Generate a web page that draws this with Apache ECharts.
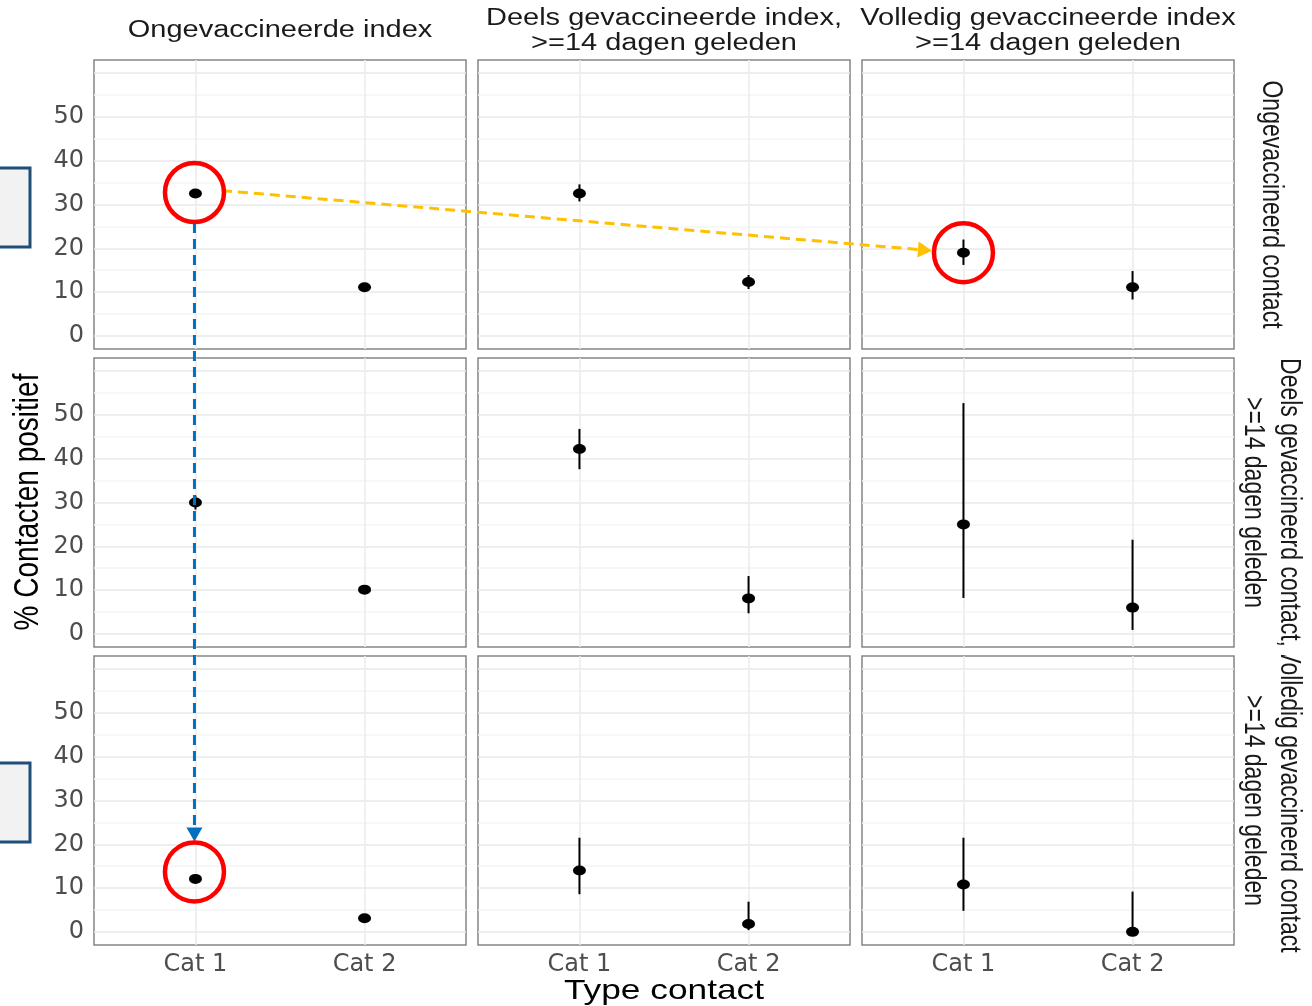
<!DOCTYPE html>
<html>
<head>
<meta charset="utf-8">
<script src="https://cdn.jsdelivr.net/npm/echarts@6/dist/echarts.min.js"></script>
<style>
html, body { margin: 0; padding: 0; background: #ffffff; }
#chart { width: 1312px; height: 1006px; }
</style>
</head>
<body>
<div id="chart"></div>
<script>
// ---------------- data ----------------
const categories = ['Cat 1', 'Cat 2'];
const indexLabels = [
  'Ongevaccineerde index',
  'Deels gevaccineerde index,\n>=14 dagen geleden',
  'Volledig gevaccineerde index\n>=14 dagen geleden'
];
const contactLabels = [
  'Ongevaccineerd contact',
  'Deels gevaccineerd contact,\n>=14 dagen geleden',
  'Volledig gevaccineerd contact\n>=14 dagen geleden'
];
const yTickLabels = [0, 10, 20, 30, 40, 50];
const xTitle = 'Type contact';
const yTitle = '% Contacten positief';

// rows = contact status, columns = index status, inner = [Cat 1, Cat 2]
const estRow1  = [[32.5, 11.1], [32.5, 12.3], [19.0, 11.1]];
const lowRow1  = [[31.6, 10.5], [30.7, 10.7], [16.2, 8.3]];
const highRow1 = [[33.4, 11.7], [34.6, 13.9], [22.0, 14.8]];

const estRow2  = [[30.0, 10.1], [42.2, 8.1], [25.0, 6.0]];
const lowRow2  = [[28.4, 9.4], [37.6, 4.7], [8.2, 0.9]];
const highRow2 = [[31.6, 10.8], [46.8, 13.2], [52.7, 21.5]];

const estRow3  = [[12.1, 3.1], [14.0, 1.8], [10.8, 0.0]];
const lowRow3  = [[11.1, 2.5], [8.6, 0.4], [4.8, 0.0]];
const highRow3 = [[13.1, 3.8], [21.5, 6.9], [21.5, 9.2]];

const estRows = [estRow1, estRow2, estRow3];
const lowRows = [lowRow1, lowRow2, lowRow3];
const highRows = [highRow1, highRow2, highRow3];

// ---------------- layout ----------------
const colLeft = [94, 478, 862];
const rowTop = [60, 358, 656];
const panelW = 372, panelH = 289;
const TICK_FONT = 'DejaVu Sans';
const TEXT_FONT = '"Liberation Sans", Arial, sans-serif';
const STRETCH = 1.26;

const chart = echarts.init(document.getElementById('chart'), null, { renderer: 'canvas' });

const grids = [], xAxes = [], yAxes = [], series = [];
for (let r = 0; r < 3; r++) {
  for (let c = 0; c < 3; c++) {
    const gi = r * 3 + c;
    grids.push({
      left: colLeft[c], top: rowTop[r], width: panelW, height: panelH,
      show: true, borderColor: '#858585', borderWidth: 1.5, backgroundColor: 'transparent'
    });
    xAxes.push({
      type: 'value', gridIndex: gi, min: 0.4, max: 2.6, minInterval: 1, maxInterval: 1,
      axisLine: { show: false }, axisTick: { show: false },
      axisLabel: {
        show: r === 2, color: '#4d4d4d', fontFamily: TICK_FONT, fontSize: 24, margin: 8,
        formatter: v => (Number.isInteger(v) && v >= 1 && v <= categories.length) ? categories[v - 1] : ''
      },
      splitLine: { show: true, showMinLine: false, showMaxLine: false, lineStyle: { color: '#ebebeb', width: 1.5 } }
    });
    yAxes.push({
      type: 'value', gridIndex: gi, min: -3, max: 63, minInterval: 5, maxInterval: 5,
      axisLine: { show: false }, axisTick: { show: false },
      axisLabel: {
        show: c === 0, color: '#4d4d4d', fontFamily: TICK_FONT, fontSize: 24, margin: 10,
        formatter: v => yTickLabels.includes(v) ? String(Math.abs(v)) : ''
      },
      splitLine: { show: true, showMinLine: false, showMaxLine: false, lineStyle: { color: ['#e8e8e8', '#f4f4f4'], width: 1.5 } }
    });
    series.push({
      type: 'custom', xAxisIndex: gi, yAxisIndex: gi, silent: true, z: 2,
      encode: { x: 0, y: [1, 2] },
      data: categories.map((cat, k) => [k + 1, lowRows[r][c][k], highRows[r][c][k]]),
      renderItem: (params, api) => {
        const x = api.value(0);
        const p1 = api.coord([x, api.value(1)]);
        const p2 = api.coord([x, api.value(2)]);
        return { type: 'line', shape: { x1: p1[0], y1: p1[1], x2: p2[0], y2: p2[1] },
                 style: { stroke: '#000000', lineWidth: 2 } };
      }
    });
    series.push({
      type: 'scatter', xAxisIndex: gi, yAxisIndex: gi, silent: true, z: 3,
      symbol: 'circle', symbolSize: [13, 10], itemStyle: { color: '#000000', opacity: 1 },
      data: categories.map((cat, k) => [k + 1, estRows[r][c][k]])
    });
  }
}

chart.setOption({
  animation: false,
  backgroundColor: '#ffffff',
  grid: grids, xAxis: xAxes, yAxis: yAxes, series: series
});

// ---------------- texts & annotations ----------------
function textEl(text, x, y, size, color, rotation, lineHeight, z) {
  const el = {
    type: 'text', x: x, y: y, z: z || 50,
    style: {
      text: text, fill: color, font: size + 'px ' + TEXT_FONT,
      fontSize: size, fontFamily: TEXT_FONT,
      align: 'center', verticalAlign: 'middle',
      textAlign: 'center', textVerticalAlign: 'middle',
      lineHeight: lineHeight || Math.round(size * 1.1)
    }
  };
  if (rotation) { el.rotation = rotation; el.scaleY = STRETCH; }
  else { el.scaleX = STRETCH; }
  return el;
}

const g = [];
// column strips
const colCenters = colLeft.map(l => l + panelW / 2);
indexLabels.forEach((t, i) => g.push(textEl(t, colCenters[i], 31, 23, '#1a1a1a', 0, 25)));
// row strips (the third one is cut off at its strip edge, like the original)
const rowCenters = rowTop.map(t => t + panelH / 2);
contactLabels.forEach((t, i) => g.push(textEl(t, 1271, rowCenters[i], 23, '#1a1a1a', -Math.PI / 2, 28, i === 1 ? 53 : 50)));
g.push({ type: 'rect', z: 51, shape: { x: 1272, y: 643, width: 40, height: 12 }, style: { fill: '#ffffff' } });
// axis titles
g.push(textEl(xTitle, 664, 991, 28, '#000000', 0));
g.push(textEl(yTitle, 28, 502, 28, '#000000', Math.PI / 2));

// left boxes
g.push({ type: 'rect', z: 40, shape: { x: -6, y: 168, width: 36, height: 79 },
         style: { fill: '#f2f2f2', stroke: '#1f4e79', lineWidth: 3 } });
g.push({ type: 'rect', z: 40, shape: { x: -6, y: 763, width: 36, height: 79 },
         style: { fill: '#f2f2f2', stroke: '#1f4e79', lineWidth: 3 } });

// positions from data via axes
const px = (r, c, k) => chart.convertToPixel({ xAxisIndex: r * 3 + c, yAxisIndex: r * 3 + c }, [k + 1, estRows[r][c][k]]);
const c1 = px(0, 0, 0); c1[0] -= 1; c1[1] -= 1;
const c2 = px(0, 2, 0);
const c3 = px(2, 0, 0); c3[0] -= 1; c3[1] -= 7;
const R = 29.5;
[c1, c2, c3].forEach(c => g.push({ type: 'circle', z: 60, shape: { cx: c[0], cy: c[1], r: R },
  style: { fill: 'none', stroke: '#ff0000', lineWidth: 4.5 } }));

function arrow(start, tip, color, headLen, headW) {
  const dx = tip[0] - start[0], dy = tip[1] - start[1];
  const len = Math.sqrt(dx * dx + dy * dy);
  const ux = dx / len, uy = dy / len, nx = -uy, ny = ux;
  const bx = tip[0] - ux * headLen, by = tip[1] - uy * headLen;
  g.push({ type: 'line', z: 55, shape: { x1: start[0], y1: start[1], x2: bx + ux * 2, y2: by + uy * 2 },
           style: { stroke: color, lineWidth: 3, lineDash: [10, 6] } });
  g.push({ type: 'polygon', z: 56, shape: { points: [[tip[0], tip[1]], [bx + nx * headW, by + ny * headW], [bx - nx * headW, by - ny * headW]] },
           style: { fill: color } });
}
arrow([c1[0] + R - 2, c1[1] - 2], [c2[0] - R - 2, c2[1] - 2], '#ffc000', 14, 8);
arrow([c1[0], c1[1] + R + 1], [c3[0], c3[1] - R - 1], '#0070c0', 14, 8);

chart.setOption({ graphic: { elements: g } });
</script>
</body>
</html>
